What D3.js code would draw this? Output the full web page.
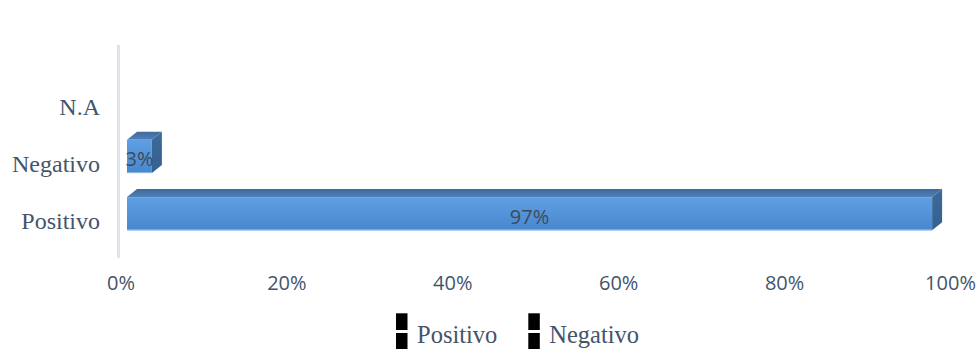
<!DOCTYPE html>
<html>
<head>
<meta charset="utf-8">
<script src="https://cdn.jsdelivr.net/npm/d3@7"></script>
<style>
  html, body { margin: 0; padding: 0; background: #ffffff; }
  svg { display: block; }
</style>
</head>
<body>
<svg id="chart" width="979" height="349"></svg>
<script>
// Categories, top to bottom
const categories = ["N.A", "Negativo", "Positivo"];
// Share of answers per category (N.A has no bar)
const values = [null, 0.03, 0.97];
const valueLabels = ["", "3%", "97%"];
// Horizontal axis ticks
const tickValues = [0, 0.2, 0.4, 0.6, 0.8, 1.0];
const tickLabels = ["0%", "20%", "40%", "60%", "80%", "100%"];
// Legend entries
const legendLabels = ["Positivo", "Negativo"];

const svg = d3.select("#chart");

const textBlue = "#44546a";
const depthX = 10, depthY = 8;

// Bar front faces
const x = d3.scaleLinear().domain([0, 1]).range([127, 957]);
// Floor tick labels sit on the back plane
const xTicks = x.copy().range([121, 950.5]);

const y = d3.scaleBand()
  .domain(categories)
  .range([70.6, 242.35])
  .paddingInner(0.42)
  .paddingOuter(0.21);

const defs = svg.append("defs");
const gFront = defs.append("linearGradient").attr("id", "gFront")
  .attr("x1", 0).attr("y1", 0).attr("x2", 0).attr("y2", 1);
gFront.append("stop").attr("offset", "0%").attr("stop-color", "#5e9fe3");
gFront.append("stop").attr("offset", "85%").attr("stop-color", "#4c8bd1");
gFront.append("stop").attr("offset", "100%").attr("stop-color", "#4a87cc");

const gTop = defs.append("linearGradient").attr("id", "gTop")
  .attr("x1", 0).attr("y1", 0).attr("x2", 0).attr("y2", 1);
gTop.append("stop").attr("offset", "0%").attr("stop-color", "#3f6b9c");
gTop.append("stop").attr("offset", "100%").attr("stop-color", "#4f80b8");

const gSide = defs.append("linearGradient").attr("id", "gSide")
  .attr("x1", 0).attr("y1", 0).attr("x2", 0).attr("y2", 1);
gSide.append("stop").attr("offset", "0%").attr("stop-color", "#3d6a9b");
gSide.append("stop").attr("offset", "100%").attr("stop-color", "#35608f");

// Back wall line
svg.append("line")
  .attr("x1", 118.5).attr("x2", 118.5)
  .attr("y1", 45).attr("y2", 258)
  .attr("stroke", "#dfe3ec").attr("stroke-width", 3);

// Category labels
svg.append("g").selectAll("text")
  .data(categories)
  .join("text")
  .attr("x", 100)
  .attr("y", d => y(d) + y.bandwidth() / 2 + 15.5)
  .attr("text-anchor", "end")
  .attr("font-family", "'Liberation Serif', 'Times New Roman', serif")
  .attr("font-size", 24)
  .attr("fill", textBlue)
  .text(d => d);

// 3D bars
const bars = categories.map((c, i) => ({ c, v: values[i], label: valueLabels[i] }))
  .filter(d => d.v != null);

const gBars = svg.append("g");
bars.forEach(d => {
  const x0 = x(0), x1 = x(d.v);
  const y0 = y(d.c), y1 = y(d.c) + y.bandwidth();
  const g = gBars.append("g");
  g.append("polygon")
    .attr("points", [[x0, y0], [x0 + depthX, y0 - depthY], [x1 + depthX, y0 - depthY], [x1, y0]].join(" "))
    .attr("fill", "url(#gTop)");
  g.append("polygon")
    .attr("points", [[x1, y0], [x1 + depthX, y0 - depthY], [x1 + depthX, y1 - depthY], [x1, y1]].join(" "))
    .attr("fill", "url(#gSide)");
  g.append("rect")
    .attr("x", x0).attr("y", y0)
    .attr("width", x1 - x0).attr("height", y1 - y0)
    .attr("fill", "url(#gFront)");
  g.append("line")
    .attr("x1", x0).attr("x2", x1)
    .attr("y1", y1 - 0.5).attr("y2", y1 - 0.5)
    .attr("stroke", "#8fb9e8").attr("stroke-width", 1);
  g.append("text")
    .attr("x", (x0 + x1) / 2)
    .attr("y", (y0 + y1) / 2 + 3)
    .attr("dy", "0.35em")
    .attr("text-anchor", "middle")
    .attr("font-family", "'Open Sans', sans-serif")
    .attr("font-size", 20)
    .attr("fill", "#3d4a5c")
    .text(d.label);
});

// Horizontal axis labels
svg.append("g").selectAll("text")
  .data(tickValues)
  .join("text")
  .attr("x", d => xTicks(d))
  .attr("y", 290)
  .attr("text-anchor", "middle")
  .attr("font-family", "'Open Sans', sans-serif")
  .attr("font-size", 20)
  .attr("fill", textBlue)
  .text((d, i) => tickLabels[i]);

// Legend
const legendX = [396, 528.3];
const leg = svg.append("g");
legendLabels.forEach((name, i) => {
  const lx = legendX[i];
  leg.append("rect").attr("x", lx).attr("y", 313.3).attr("width", 11.5).attr("height", 16.7).attr("fill", "#000");
  leg.append("rect").attr("x", lx).attr("y", 333).attr("width", 11.5).attr("height", 16).attr("fill", "#000");
  leg.append("text")
    .attr("x", lx + 21)
    .attr("y", 342.5)
    .attr("font-family", "'Liberation Serif', 'Times New Roman', serif")
    .attr("font-size", 24.5)
    .attr("fill", textBlue)
    .text(name);
});
</script>
</body>
</html>
